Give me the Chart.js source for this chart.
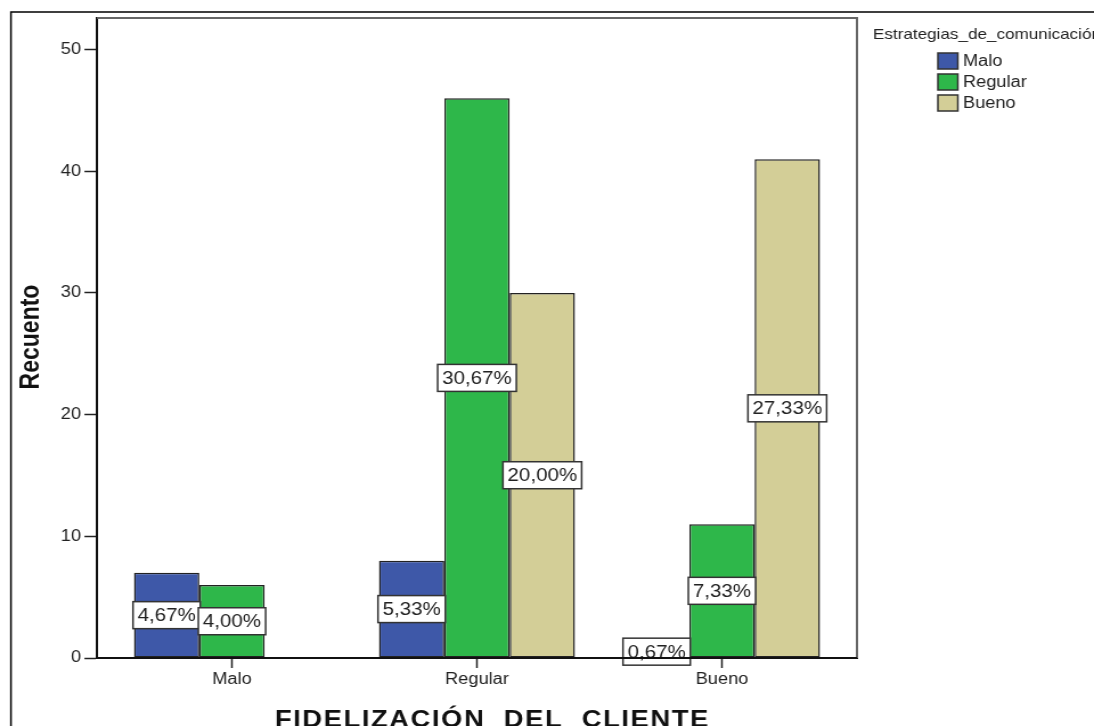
<!DOCTYPE html>
<html>
<head>
<meta charset="utf-8">
<script src="https://cdn.jsdelivr.net/npm/chart.js@4.4.1/dist/chart.umd.min.js"></script>
<style>
  html, body { margin: 0; padding: 0; background: #fff; overflow: hidden; }
  #grafico { display: block; }
</style>
</head>
<body>
<!-- el lienzo se dibuja a 960 px y se estira a lo ancho -->
<canvas id="grafico" width="960" height="726" style="width:1094px;height:726px"></canvas>
<script>
const categorias = ['Malo', 'Regular', 'Bueno'];
const series = ['Malo', 'Regular', 'Bueno'];
const recuentoMalo = [7, 8, 1];
const recuentoRegular = [6, 46, 11];
const recuentoBueno = [0, 30, 41];
const ticksY = [0, 10, 20, 30, 40, 50];

const tituloX = 'FIDELIZACIÓN  DEL  CLIENTE';
const tituloY = 'Recuento';
const tituloLeyenda = 'Estrategias_de_comunicación';

const colores = ['#3e58a8', '#2eb74a', '#d3ce97'];
const fuente = '"Liberation Sans", Arial, sans-serif';

const valores = [recuentoMalo, recuentoRegular, recuentoBueno];
const total = valores.flat().reduce((a, b) => a + b, 0);

// marco del área, etiquetas de porcentaje, títulos y leyenda
const extras = {
  id: 'extras',
  beforeDatasetsDraw(chart) {
    const { ctx, chartArea: a } = chart;
    ctx.save();
    ctx.strokeStyle = '#666';
    ctx.lineWidth = 2;
    ctx.beginPath();
    ctx.moveTo(a.left, a.top);
    ctx.lineTo(a.right, a.top);
    ctx.lineTo(a.right, a.bottom);
    ctx.stroke();
    ctx.restore();
  },
  afterDatasetsDraw(chart) {
    const { ctx, chartArea: a } = chart;
    ctx.save();
    ctx.font = '18px ' + fuente;
    ctx.textAlign = 'center';
    ctx.textBaseline = 'middle';
    chart.data.datasets.forEach((ds, k) => {
      const meta = chart.getDatasetMeta(k);
      meta.data.forEach((bar, i) => {
        const v = ds.data[i].y;
        if (!v) return;
        const texto = (v / total * 100).toFixed(2).replace('.', ',') + '%';
        const w = ctx.measureText(texto).width + 8;
        const h = 27;
        const cy = (bar.y + bar.base) / 2;
        ctx.fillStyle = '#fff';
        ctx.fillRect(bar.x - w / 2, cy - h / 2, w, h);
        ctx.strokeStyle = '#333';
        ctx.lineWidth = 1.5;
        ctx.strokeRect(bar.x - w / 2, cy - h / 2, w, h);
        ctx.fillStyle = '#222';
        ctx.fillText(texto, bar.x, cy + 1);
      });
    });
    // el eje X queda por encima de las etiquetas
    ctx.strokeStyle = '#111';
    ctx.lineWidth = 2;
    ctx.beginPath();
    ctx.moveTo(a.left, a.bottom);
    ctx.lineTo(a.right, a.bottom);
    ctx.stroke();
    ctx.restore();
  },
  afterDraw(chart) {
    const { ctx } = chart;
    ctx.save();
    ctx.fillStyle = '#111';

    ctx.font = 'bold 24px ' + fuente;
    ctx.letterSpacing = '1.4px';
    ctx.textAlign = 'center';
    ctx.textBaseline = 'alphabetic';
    ctx.fillText(tituloX, 432, 726.5);
    ctx.letterSpacing = '0px';

    ctx.save();
    ctx.translate(33.6, 337);
    ctx.rotate(-Math.PI / 2);
    ctx.font = 'bold 23px ' + fuente;
    ctx.fillText(tituloY, 0, 0);
    ctx.restore();

    // leyenda
    ctx.fillStyle = '#222';
    ctx.textAlign = 'left';
    ctx.textBaseline = 'middle';
    ctx.font = '15px ' + fuente;
    ctx.fillText(tituloLeyenda, 766, 35);
    ctx.font = '16px ' + fuente;
    series.forEach((s, k) => {
      const y = 61 + 21 * k;
      ctx.fillStyle = colores[k];
      ctx.fillRect(823, y - 8, 17.5, 16);
      ctx.strokeStyle = '#333';
      ctx.lineWidth = 1.5;
      ctx.strokeRect(823, y - 8, 17.5, 16);
      ctx.fillStyle = '#222';
      ctx.fillText(s, 845, y + 1);
    });

    // marco exterior
    ctx.strokeStyle = '#000';
    ctx.lineWidth = 1.5;
    ctx.strokeRect(9.6, 12, 2000, 2000);
    ctx.restore();
  }
};

const ctx = document.getElementById('grafico').getContext('2d');

new Chart(ctx, {
  type: 'bar',
  data: {
    datasets: series.map((s, k) => ({
      label: s,
      data: valores[k].map((v, i) => ({ x: i, y: v })),
      backgroundColor: colores[k],
      borderColor: '#222',
      borderWidth: 1.5,
      borderSkipped: false,
      categoryPercentage: 0.8,
      barPercentage: 1
    }))
  },
  options: {
    responsive: false,
    animation: false,
    layout: { padding: { top: 18, right: 208, bottom: 0, left: 0 } },
    plugins: {
      legend: { display: false },
      tooltip: { enabled: false }
    },
    scales: {
      x: {
        type: 'linear',
        offset: false,
        min: -0.551,
        max: 2.551,
        afterBuildTicks: (s) => { s.ticks = categorias.map((c, i) => ({ value: i })); },
        afterFit: (s) => { s.height = 68; },
        ticks: {
          callback: (v) => categorias[v],
          font: { family: fuente, size: 16 },
          color: '#222',
          padding: 2,
          autoSkip: false,
          maxRotation: 0
        },
        grid: { offset: false, drawOnChartArea: false, drawTicks: true, tickLength: 10, tickColor: '#222', tickWidth: 1.5 },
        border: { color: '#111', width: 2 }
      },
      y: {
        min: 0,
        max: 52.6,
        afterBuildTicks: (s) => { s.ticks = ticksY.map(v => ({ value: v })); },
        afterFit: (s) => { s.width = 85.1; },
        ticks: {
          font: { family: fuente, size: 16 },
          color: '#222',
          padding: 3
        },
        grid: { drawOnChartArea: false, drawTicks: true, tickLength: 11, tickColor: '#222', tickWidth: 1.5 },
        border: { color: '#111', width: 2 }
      }
    }
  },
  plugins: [extras]
});
</script>
</body>
</html>
